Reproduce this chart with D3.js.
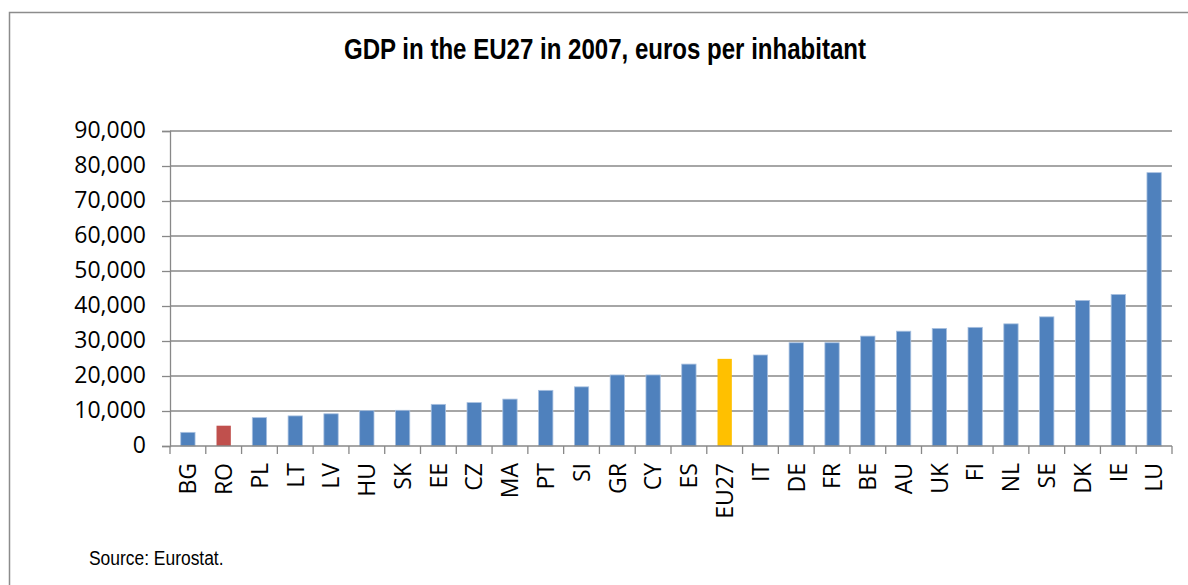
<!DOCTYPE html>
<html>
<head>
<meta charset="utf-8">
<script src="https://cdn.jsdelivr.net/npm/d3@7"></script>
<style>
  html, body { margin: 0; padding: 0; background: #fff; }
  svg { display: block; }
</style>
</head>
<body>
<svg id="chart" width="1188" height="585"></svg>
<script>
// GDP per inhabitant, 2007 (euros)
const countries = ["BG","RO","PL","LT","LV","HU","SK","EE","CZ","MA","PT","SI","GR","CY","ES","EU27","IT","DE","FR","BE","AU","UK","FI","NL","SE","DK","IE","LU"];
const gdpPerInhabitant = [3900,5800,8100,8600,9200,10100,10200,11900,12400,13400,15900,16900,20300,20300,23400,24900,26000,29500,29500,31400,32800,33600,33900,34900,36900,41600,43300,78100];
const yTicks = [0,10000,20000,30000,40000,50000,60000,70000,80000,90000];
const highlight = { RO: "#C0504D", EU27: "#FFC000" };
const baseColor = "#4F81BD";

const svg = d3.select("#chart");
const W = 1188, H = 585;
const plot = { left: 170, right: 1172, top: 131, bottom: 446 };
const axisFont = "'Open Sans', sans-serif";
const narrowFont = "'Liberation Sans', Arial, sans-serif";
const narrow = 0.83; // horizontal squeeze to get a narrow face

// outer frame
svg.append("rect")
  .attr("x", 9.5).attr("y", 12.5)
  .attr("width", W + 20).attr("height", H + 20)
  .attr("fill", "none").attr("stroke", "#8c8c8c").attr("stroke-width", 1.5);

// title
svg.append("text")
  .attr("transform", `translate(605,59) scale(${narrow},1)`)
  .attr("text-anchor", "middle")
  .style("font-family", narrowFont)
  .style("font-weight", "bold")
  .style("font-size", "29px")
  .attr("fill", "#000")
  .text("GDP in the EU27 in 2007, euros per inhabitant");

const x = d3.scaleBand()
  .domain(countries)
  .range([plot.left, plot.right])
  .paddingInner(0.6)
  .paddingOuter(0.3);

const y = d3.scaleLinear()
  .domain([0, 90000])
  .range([plot.bottom, plot.top]);

// gridlines
svg.append("g")
  .selectAll("line")
  .data(yTicks.filter(d => d > 0))
  .join("line")
  .attr("x1", plot.left).attr("x2", plot.right)
  .attr("y1", d => y(d)).attr("y2", d => y(d))
  .attr("stroke", "#888").attr("stroke-width", 1.3);

// bars
svg.append("g")
  .selectAll("rect")
  .data(countries.map((c, i) => ({ c, v: gdpPerInhabitant[i] })))
  .join("rect")
  .attr("x", d => x(d.c))
  .attr("width", x.bandwidth())
  .attr("y", d => y(d.v))
  .attr("height", d => y(0) - y(d.v))
  .attr("fill", d => highlight[d.c] || baseColor)
  .attr("stroke", d => d.c in highlight ? "none" : "#a9c1e0")
  .attr("stroke-width", 0.8);

// y axis
const yAxis = d3.axisLeft(y)
  .tickValues(yTicks)
  .tickSize(8)
  .tickPadding(16)
  .tickFormat(d3.format(","));
const gy = svg.append("g")
  .attr("transform", `translate(${plot.left},0)`)
  .call(yAxis);
gy.select(".domain").attr("stroke", "#888").attr("stroke-width", 1.3);
gy.selectAll(".tick line").attr("stroke", "#888").attr("stroke-width", 1.3);
gy.selectAll(".tick text")
  .style("font-family", axisFont)
  .style("font-size", "23px")
  .attr("dy", "0.3em")
  .attr("fill", "#000");

// x axis: baseline with tick marks on category boundaries
const xAxisG = svg.append("g");
xAxisG.append("line")
  .attr("x1", plot.left).attr("x2", plot.right)
  .attr("y1", plot.bottom).attr("y2", plot.bottom)
  .attr("stroke", "#888").attr("stroke-width", 1.3);
xAxisG.selectAll("line.tick")
  .data(d3.range(countries.length + 1))
  .join("line")
  .attr("class", "tick")
  .attr("x1", i => plot.left + i * x.step())
  .attr("x2", i => plot.left + i * x.step())
  .attr("y1", plot.bottom).attr("y2", plot.bottom + 8)
  .attr("stroke", "#888").attr("stroke-width", 1.3);

xAxisG.selectAll("text")
  .data(countries)
  .join("text")
  .attr("transform", d => `translate(${x(d) + x.bandwidth() / 2},${plot.bottom + 17}) rotate(-90)`)
  .attr("text-anchor", "end")
  .attr("dy", "0.36em")
  .style("font-family", axisFont)
  .style("font-size", "23px")
  .attr("fill", "#000")
  .text(d => d);

// source note
svg.append("text")
  .attr("transform", `translate(89,565) scale(${narrow},1)`)
  .style("font-family", narrowFont)
  .style("font-size", "21px")
  .attr("fill", "#000")
  .text("Source: Eurostat.");
</script>
</body>
</html>
